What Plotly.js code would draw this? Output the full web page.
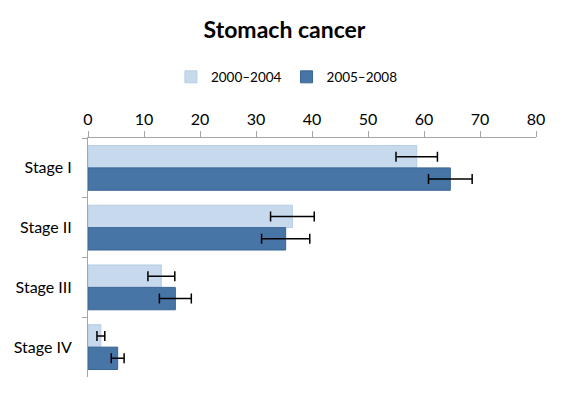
<!DOCTYPE html>
<html><head><meta charset="utf-8">
<script src="https://cdn.plot.ly/plotly-3.0.1.min.js"></script>
<style>html,body{margin:0;padding:0;background:#fff}#chart{width:569px;height:394px}</style>
</head><body><div id="chart"></div>
<script>
const categories = ["Stage I", "Stage II", "Stage III", "Stage IV"];
const series1Name = "2000\u20132004";
const series2Name = "2005\u20132008";
const series1Values = [58.7, 36.5, 13.1, 2.3];
const series1Errors = [3.7, 3.9, 2.4, 0.7];
const series2Values = [64.7, 35.3, 15.6, 5.3];
const series2Errors = [3.9, 4.3, 2.85, 1.15];
const xTicks = [0, 10, 20, 30, 40, 50, 60, 70, 80];

const FONT = "Lato, 'Open Sans', sans-serif";
const err = (arr) => ({type: 'data', array: arr, visible: true, color: '#000', thickness: 1.5, width: 5});

const traces = [
  {type: 'bar', orientation: 'h', name: series1Name, y: categories, x: series1Values,
   marker: {color: '#c6d9ed', line: {color: '#b8cde4', width: 1}}, error_x: err(series1Errors)},
  {type: 'bar', orientation: 'h', name: series2Name, y: categories, x: series2Values,
   marker: {color: '#4675a6', line: {color: '#3a6696', width: 1}}, error_x: err(series2Errors)}
];

const layout = {
  width: 569, height: 394,
  margin: {l: 88, r: 33, t: 138, b: 17},
  paper_bgcolor: '#fff', plot_bgcolor: '#fff',
  font: {family: FONT, color: '#000', size: 15},
  title: {text: '<b>Stomach cancer</b>', x: 0.5, xanchor: 'center', y: 0.925, yanchor: 'middle',
          font: {family: FONT, size: 23, color: '#000'}},
  barmode: 'group', bargap: 0.25, bargroupgap: 0,
  showlegend: true,
  legend: {orientation: 'h', x: 0.444, xanchor: 'center', y: 1.255, yanchor: 'middle',
           font: {family: FONT, size: 13.5}, traceorder: 'normal', itemwidth: 30},
  xaxis: {side: 'top', range: [0, 80], tickvals: xTicks, ticks: 'outside', ticklen: 6,
          tickcolor: '#a6a6a6', showline: true, linecolor: '#a6a6a6', linewidth: 1,
          showgrid: false, zeroline: false, tickfont: {size: 16}, fixedrange: true},
  yaxis: {autorange: 'reversed', type: 'category', ticks: 'outside', tickson: 'boundaries', ticklen: 5,
          tickcolor: '#a6a6a6', showline: true, linecolor: '#a6a6a6', linewidth: 1,
          showgrid: false, zeroline: false, tickfont: {size: 16}, ticklabelstandoff: 12}
};

Plotly.newPlot('chart', traces, layout, {displayModeBar: false, staticPlot: true});
</script></body></html>
